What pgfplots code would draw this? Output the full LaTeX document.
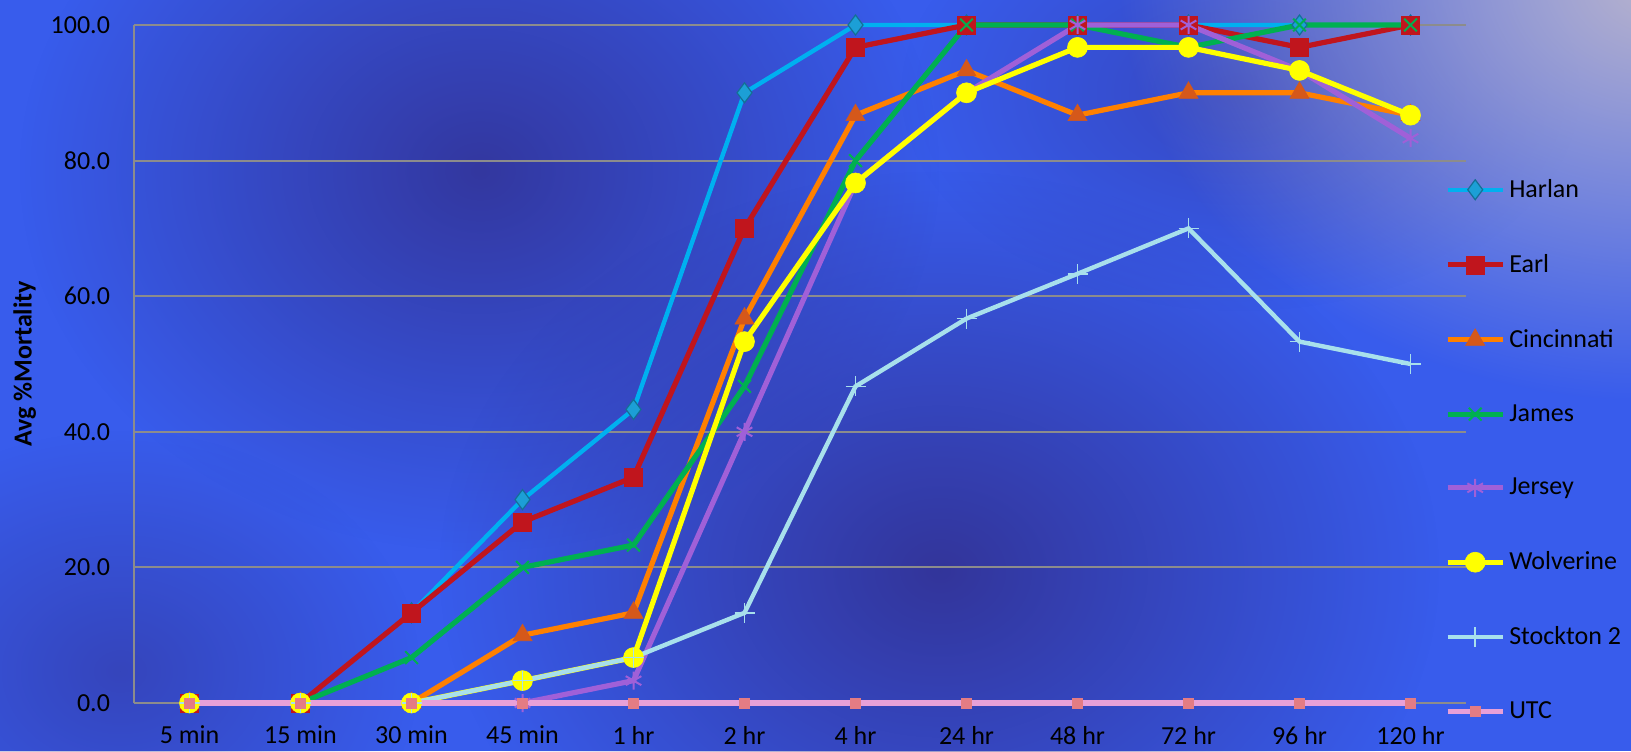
\documentclass[border=0pt]{standalone}
\usepackage{pgfplots}
\pgfplotsset{compat=1.18}
\usepackage{fontspec}
\setmainfont{Carlito}
\usetikzlibrary{fadings}
\tikzfading[name=softcircle, inner color=transparent!0, outer color=transparent!100]
\definecolor{bgbase}{RGB}{56,92,236}
\definecolor{bgdark}{RGB}{50,46,140}
\definecolor{bglight}{RGB}{185,180,205}
\definecolor{cHarlan}{HTML}{00B0F0}
\definecolor{mHarlan}{HTML}{1C9FD6}
\definecolor{cEarl}{HTML}{C0151D}
\definecolor{cCin}{HTML}{FF8000}
\definecolor{mCin}{HTML}{D5581A}
\definecolor{cJames}{HTML}{00B050}
\definecolor{cJersey}{HTML}{A060D8}
\definecolor{cWolv}{HTML}{FFFF00}
\definecolor{cStock}{HTML}{A8E0EC}
\definecolor{cUTC}{HTML}{E8A0D8}
\definecolor{mUTC}{HTML}{E47C84}
\definecolor{gridgray}{HTML}{8C8C8C}
\begin{document}
\begin{tikzpicture}[x=1pt,y=1pt]
\path[use as bounding box] (0,0) rectangle (815.5,375.5);
\fill[bgbase] (0,0) rectangle (815.5,375.5);
\begin{scope}
\clip (0,0) rectangle (815.5,375.5);
\fill[bgdark, fill opacity=0.8, path fading=softcircle] (240,290) ellipse (230 and 190);
\fill[bgdark, fill opacity=0.85, path fading=softcircle] (470,90) ellipse (250 and 200);
\fill[bgdark, fill opacity=0.5, path fading=softcircle] (60,40) ellipse (150 and 120);
\fill[bgdark, fill opacity=0.45, path fading=softcircle] (620,330) ellipse (170 and 110);
\fill[bglight, fill opacity=1, path fading=softcircle] (830,385) ellipse (270 and 210);
\end{scope}
\begin{axis}[
  at={(67pt,24pt)}, anchor=south west,
  scale only axis, width=666pt, height=339pt,
  xmin=-0.5, xmax=11.5, ymin=0, ymax=100,
  axis x line=bottom, axis y line=left,
  axis line style={gridgray, line width=1pt, -},
  xtick={0,...,11},
  xticklabels={5 min,15 min,30 min,45 min,1 hr,2 hr,4 hr,24 hr,48 hr,72 hr,96 hr,120 hr},
  ytick={0,20,...,100},
  major tick length=0pt,
  ymajorgrids, grid style={gridgray, line width=1pt},
  tick label style={font=\fontsize{13}{15}\selectfont},
  xticklabel style={yshift=-8pt},
  yticklabel style={xshift=-8.5pt, /pgf/number format/.cd, fixed, fixed zerofill, precision=1, assume math mode=true},
  ylabel={Avg \%Mortality},
  ylabel style={font=\fontsize{13}{15}\selectfont\bfseries, at={(axis description cs:-0.082,0.5)}, anchor=center},
  clip=false,
  legend style={at={(axis description cs:0.984,0.779)}, anchor=north west, draw=none, fill=none,
    font=\fontsize{13}{15}\selectfont, row sep=23pt, inner sep=0pt},
  legend cell align=left,
  legend image code/.code={\draw[mark repeat=2,mark phase=2] plot coordinates {(0pt,0pt) (13.75pt,0pt) (27.5pt,0pt)};},
]
\addplot[cHarlan, line width=2.2pt, mark=diamond*, mark size=5pt, mark options={fill=mHarlan, draw=mHarlan!70!black, line width=0.6pt}]
  coordinates {(0,0)(1,0)(2,13.3)(3,30)(4,43.3)(5,90)(6,100)(7,100)(8,100)(9,100)(10,100)(11,100)};
\addlegendentry{Harlan}
\addplot[cEarl, line width=2.6pt, mark=square*, mark size=4.5pt, mark options={line width=0.3pt}]
  coordinates {(0,0)(1,0)(2,13.3)(3,26.7)(4,33.3)(5,70)(6,96.7)(7,100)(8,100)(9,100)(10,96.7)(11,100)};
\addlegendentry{Earl}
\addplot[cCin, line width=2.6pt, mark=triangle*, mark size=5.5pt, mark options={fill=mCin, draw=mCin, line width=0.3pt}]
  coordinates {(0,0)(1,0)(2,0)(3,10)(4,13.3)(5,56.7)(6,86.7)(7,93.3)(8,86.7)(9,90)(10,90)(11,86.7)};
\addlegendentry{Cincinnati}
\addplot[cJames, line width=2.6pt, mark=x, mark size=4.5pt, mark options={line width=1pt}]
  coordinates {(0,0)(1,0)(2,6.7)(3,20)(4,23.3)(5,46.7)(6,80)(7,100)(8,100)(9,96.7)(10,100)(11,100)};
\addlegendentry{James}
\addplot[cJersey, line width=2.6pt, mark=asterisk, mark size=4.5pt, mark options={line width=1pt}]
  coordinates {(0,0)(1,0)(2,0)(3,0)(4,3.3)(5,40)(6,76.7)(7,90)(8,100)(9,100)(10,93.3)(11,83.3)};
\addlegendentry{Jersey}
\addplot[cWolv, line width=2.6pt, mark=*, mark size=5pt, mark options={fill=cWolv, draw=cWolv, line width=0.3pt}]
  coordinates {(0,0)(1,0)(2,0)(3,3.3)(4,6.7)(5,53.3)(6,76.7)(7,90)(8,96.7)(9,96.7)(10,93.3)(11,86.7)};
\addlegendentry{Wolverine}
\addplot[cStock, line width=2.2pt, mark=+, mark size=5pt, mark options={line width=0.8pt}]
  coordinates {(0,0)(1,0)(2,0)(3,3.3)(4,6.7)(5,13.3)(6,46.7)(7,56.7)(8,63.3)(9,70)(10,53.3)(11,50)};
\addlegendentry{Stockton 2}
\addplot[cUTC, line width=2.6pt, mark=square*, mark size=2.5pt, mark options={fill=mUTC, draw=mUTC, line width=0.3pt}]
  coordinates {(0,0)(1,0)(2,0)(3,0)(4,0)(5,0)(6,0)(7,0)(8,0)(9,0)(10,0)(11,0)};
\addlegendentry{UTC}
\end{axis}
\end{tikzpicture}
\end{document}
